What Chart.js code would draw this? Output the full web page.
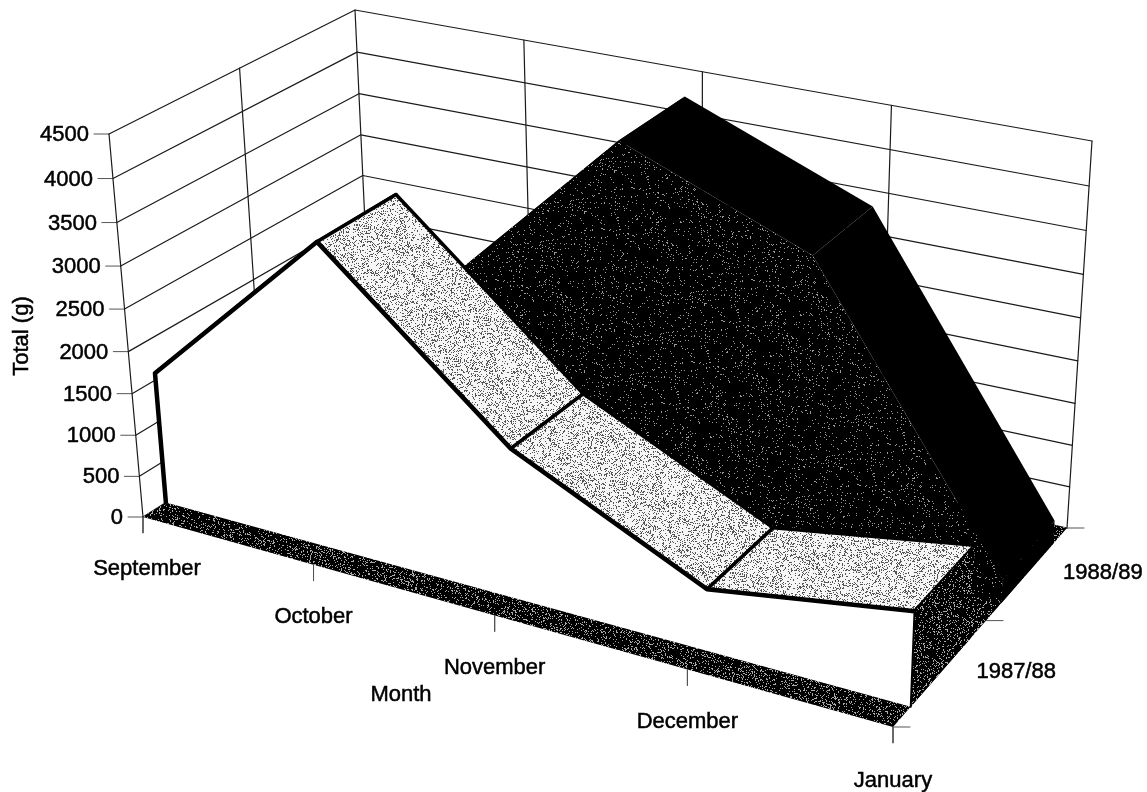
<!DOCTYPE html>
<html>
<head>
<meta charset="utf-8">
<title>Total (g) by month</title>
<script src="https://cdn.jsdelivr.net/npm/chart.js@4/dist/chart.umd.min.js"></script>
<style>
	html, body { margin: 0; padding: 0; background: #fff; }
	canvas { display: block; }
</style>
</head>
<body>
<canvas id="chart" width="1147" height="792"></canvas>
<script>
const months = ["September", "October", "November", "December", "January"];
const seasons = ["1987/88", "1988/89"];
const totalTicks = [0, 500, 1000, 1500, 2000, 2500, 3000, 3500, 4000, 4500];
const totals8788 = [1580, 3600, 1760, 720, 1090];
const totals8889 = [700, 2250, 4350, 3500, 280];

const maxTotal = 4500;

// corners of the 3d box on screen: [month 0, depth 0], [month 1, depth 0], [month 1, depth 1], [month 0, depth 1]
const floorQuad = [[143, 517], [893, 727], [1067, 528], [372, 372]];
const topQuad = [[109, 134], [908, 315], [1092, 141], [355, 10]];
const heightBend = 0.95;
const monthBend = 1.07;
// each season's band across the depth of the floor
const bands = [[0.09, 0.41], [0.59, 0.91]];

function squareToQuad(q) {
	const [[x0, y0], [x1, y1], [x2, y2], [x3, y3]] = q;
	const sx = x0 - x1 + x2 - x3, sy = y0 - y1 + y2 - y3;
	const dx1 = x1 - x2, dx2 = x3 - x2, dy1 = y1 - y2, dy2 = y3 - y2;
	const det = dx1 * dy2 - dx2 * dy1;
	const g = (sx * dy2 - dx2 * sy) / det, h = (dx1 * sy - sx * dy1) / det;
	const a = x1 - x0 + g * x1, b = x3 - x0 + h * x3;
	const d = y1 - y0 + g * y1, e = y3 - y0 + h * y3;
	return (u, v) => {
		const w = g * u + h * v + 1;
		return [(a * u + b * v + x0) / w, (d * u + e * v + y0) / w];
	};
}
const onFloor = squareToQuad(floorQuad);
const onTop = squareToQuad(topQuad);

// month index, depth 0..1 and a total in grams to a canvas position
function project(m, depth, total) {
	const r = m / (months.length - 1);
	const u = r * monthBend / (1 + r * (monthBend - 1));
	const f = onFloor(u, depth), c = onTop(u, depth);
	const h = total / maxTotal;
	const t = h * heightBend / (1 + h * (heightBend - 1));
	return { x: f[0] + (c[0] - f[0]) * t, y: f[1] + (c[1] - f[1]) * t };
}

function stipple(bg, dot, density, seed) {
	const size = 256;
	const c = document.createElement("canvas");
	c.width = c.height = size;
	const g = c.getContext("2d");
	g.fillStyle = bg;
	g.fillRect(0, 0, size, size);
	g.fillStyle = dot;
	let s = seed;
	for (let y = 0; y < size; y++) {
		for (let x = 0; x < size; x++) {
			s = (s * 1103515245 + 12345) & 0x7fffffff;
			if ((s >> 8) % 1000 < density * 1000) g.fillRect(x, y, 1, 1);
		}
	}
	return g.createPattern(c, "repeat");
}
const lightFill = stipple("#f6f6f6", "#555555", 0.22, 7);
const darkFill = stipple("#000000", "#999999", 0.05, 11);
const floorFill = stipple("#000000", "#aaaaaa", 0.16, 23);

const datasets = [];
function addFace(points, fill) {
	datasets.push({ data: points.concat([points[0]]), showLine: true, fill: "shape", backgroundColor: fill, borderWidth: 0, pointRadius: 0 });
}
function addLine(points, color, width) {
	datasets.push({ data: points, showLine: true, fill: false, borderColor: color, borderWidth: width, pointRadius: 0, borderJoinStyle: "round", borderCapStyle: "round" });
}

// walls
const lastMonth = months.length - 1;
totalTicks.forEach(v => {
	addLine([project(0, 0, v), project(0, 1, v), project(lastMonth, 1, v)], "#1a1a1a", 1.2);
	const p = project(0, 0, v);
	addLine([p, { x: p.x - 15, y: p.y }], "#555555", 1);
});
addLine([project(0, 0, 0), project(0, 0, maxTotal)], "#1a1a1a", 1.2);
addLine([project(0, 0.5, 0), project(0, 0.5, maxTotal)], "#1a1a1a", 1.2);
for (let m = 0; m <= lastMonth; m++) addLine([project(m, 1, 0), project(m, 1, maxTotal)], "#1a1a1a", 1.2);

// floor and its tick marks
addFace([project(0, 0, 0), project(lastMonth, 0, 0), project(lastMonth, 1, 0), project(0, 1, 0)], floorFill);
months.forEach((_, m) => {
	const p = project(m, 0, 0);
	addLine([p, { x: p.x, y: p.y + 16 }], "#555555", 1);
});
[0, 0.5, 1].forEach(z => {
	const p = project(lastMonth, z, 0);
	addLine([p, { x: p.x + 17, y: p.y }], "#555555", 1);
});

function addSeries(values, band, topFill, sideFill, frontFill, outline) {
	const [near, far] = band;
	for (let m = 0; m < lastMonth; m++) {
		const top = [project(m, near, values[m]), project(m + 1, near, values[m + 1]), project(m + 1, far, values[m + 1]), project(m, far, values[m])];
		addFace(top, topFill);
		if (outline) addLine(top.concat([top[0]]), "#000000", 3.5);
	}
	addFace([project(lastMonth, near, values[lastMonth]), project(lastMonth, far, values[lastMonth]), project(lastMonth, far, 0), project(lastMonth, near, 0)], sideFill);
	const front = values.map((v, m) => project(m, near, v));
	addFace([project(0, near, 0)].concat(front, [project(lastMonth, near, 0)]), frontFill);
	if (outline) {
		addLine([project(0, near, 0)].concat(front), "#000000", 4.5);
		addLine([project(lastMonth, near, values[lastMonth]), project(lastMonth, near, 0)], "#000000", 2);
	}
}
addSeries(totals8889, bands[1], "#000000", "#000000", darkFill, false);
addSeries(totals8788, bands[0], lightFill, floorFill, "#ffffff", true);

// axis text sits on the same projected positions as the tick marks
const labelFont = "22px 'Liberation Sans', Arial, sans-serif";
const monthNudge = [4, 0, 0, 0, 0];
const monthDrop = [52, 52, 52, 52, 54];
const axisText = {
	id: "axisText",
	afterDraw(chart) {
		const g = chart.ctx;
		g.save();
		g.fillStyle = "#000";
		g.strokeStyle = "#000";
		g.lineWidth = 0.5;
		g.font = labelFont;
		g.textBaseline = "middle";
		function put(text, x, y) {
			g.fillText(text, x, y);
			g.strokeText(text, x, y);
		}
		g.textAlign = "right";
		totalTicks.forEach(v => {
			const p = project(0, 0, v);
			put(String(v), p.x - 20, p.y + 1);
		});
		g.textAlign = "center";
		months.forEach((name, m) => {
			const p = project(m, 0, 0);
			put(name, p.x + monthNudge[m], p.y + monthDrop[m]);
		});
		seasons.forEach((name, i) => {
			const p = project(lastMonth, 0.25 + i * 0.5, 0);
			put(name, p.x + 75, p.y);
		});
		put("Month", 401, 695);
		g.translate(22, 336);
		g.rotate(-Math.PI / 2);
		put("Total (g)", 0, 0);
		g.restore();
	}
};

new Chart(document.getElementById("chart").getContext("2d"), {
	type: "scatter",
	// chart.js paints the first dataset last
	data: { datasets: datasets.reverse() },
	options: {
		responsive: false,
		animation: false,
		events: [],
		layout: { padding: 0 },
		elements: { line: { tension: 0 } },
		plugins: { legend: { display: false }, title: { display: false }, tooltip: { enabled: false } },
		scales: {
			x: { type: "linear", display: false, min: 0, max: 1147 },
			y: { type: "linear", display: false, min: 0, max: 792, reverse: true }
		}
	},
	plugins: [axisText]
});
</script>
</body>
</html>
